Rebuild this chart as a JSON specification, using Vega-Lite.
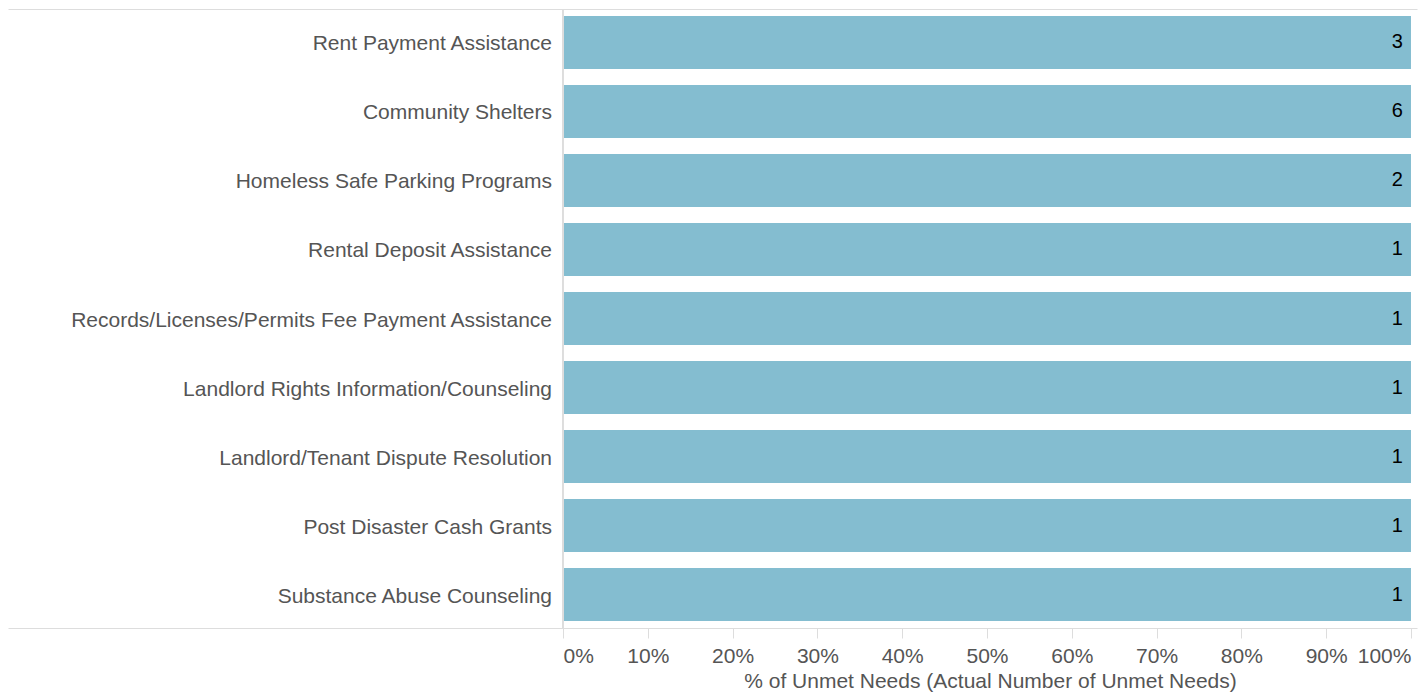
{
  "$schema": "https://vega.github.io/schema/vega-lite/v6.json",
  "width": 1409,
  "height": 619,
  "autosize": {"type": "none"},
  "padding": {"left": 8, "top": 9, "right": 9, "bottom": 64},
  "background": "white",
  "config": {
    "view": {"stroke": null},
    "font": "Liberation Sans"
  },
  "data": {
    "values": [
      {"need": "Rent Payment Assistance", "pct": 1, "count": 3},
      {"need": "Community Shelters", "pct": 1, "count": 6},
      {"need": "Homeless Safe Parking Programs", "pct": 1, "count": 2},
      {"need": "Rental Deposit Assistance", "pct": 1, "count": 1},
      {"need": "Records/Licenses/Permits Fee Payment Assistance", "pct": 1, "count": 1},
      {"need": "Landlord Rights Information/Counseling", "pct": 1, "count": 1},
      {"need": "Landlord/Tenant Dispute Resolution", "pct": 1, "count": 1},
      {"need": "Post Disaster Cash Grants", "pct": 1, "count": 1},
      {"need": "Substance Abuse Counseling", "pct": 1, "count": 1}
    ]
  },
  "resolve": {"axis": {"x": "independent"}},
  "layer": [
    {
      "mark": {"type": "bar", "color": "#84bdd0"},
      "encoding": {
        "y": {
          "field": "need", "type": "nominal", "sort": null,
          "scale": {"paddingInner": 0.23, "paddingOuter": 0.1},
          "axis": {"orient": "right", "labels": false, "ticks": false, "domain": true, "domainColor": "#dddddd", "title": null, "grid": false}
        },
        "x": {
          "field": "pct", "type": "quantitative",
          "scale": {"domain": [-0.6545, 1.0071], "nice": false, "zero": false},
          "axis": {
            "orient": "bottom",
            "values": [0, 0.1, 0.2, 0.3, 0.4, 0.5, 0.6, 0.7, 0.8, 0.9, 1],
            "format": ".0%",
            "grid": false,
            "domainColor": "#dddddd",
            "tickColor": "#dddddd",
            "tickSize": 10,
            "labelFontSize": 21,
            "labelColor": "#555555",
            "labelPadding": 7,
            "labelAlign": {"condition": [{"test": "datum.value <= 0", "value": "left"}, {"test": "datum.value >= 1", "value": "right"}], "value": "center"},
            "title": "% of Unmet Needs (Actual Number of Unmet Needs)",
            "titleFontSize": 21,
            "titleFontWeight": "normal",
            "titleColor": "#555555",
            "titlePadding": 4,
            "titleX": 982
          }
        }
      }
    },
    {
      "mark": {"type": "text", "align": "right", "baseline": "middle", "dx": -8, "dy": 0, "fontSize": 20, "color": "#000000"},
      "encoding": {
        "y": {"field": "need", "type": "nominal", "sort": null, "axis": null},
        "x": {
          "field": "pct", "type": "quantitative",
          "axis": {"orient": "top", "labels": false, "ticks": false, "domain": true, "domainColor": "#dddddd", "title": null, "grid": false}
        },
        "text": {"field": "count", "type": "quantitative"}
      }
    },
    {
      "mark": {"type": "text", "align": "right", "baseline": "middle", "dx": -11, "dy": 2, "fontSize": 21, "color": "#555555"},
      "encoding": {
        "y": {"field": "need", "type": "nominal", "sort": null, "axis": null},
        "x": {"datum": 0, "type": "quantitative", "axis": null},
        "text": {"field": "need", "type": "nominal"}
      }
    },
    {
      "mark": {"type": "rule", "color": "#dddddd", "strokeWidth": 1},
      "encoding": {
        "x": {"datum": 0, "type": "quantitative", "axis": null}
      }
    }
  ]
}
